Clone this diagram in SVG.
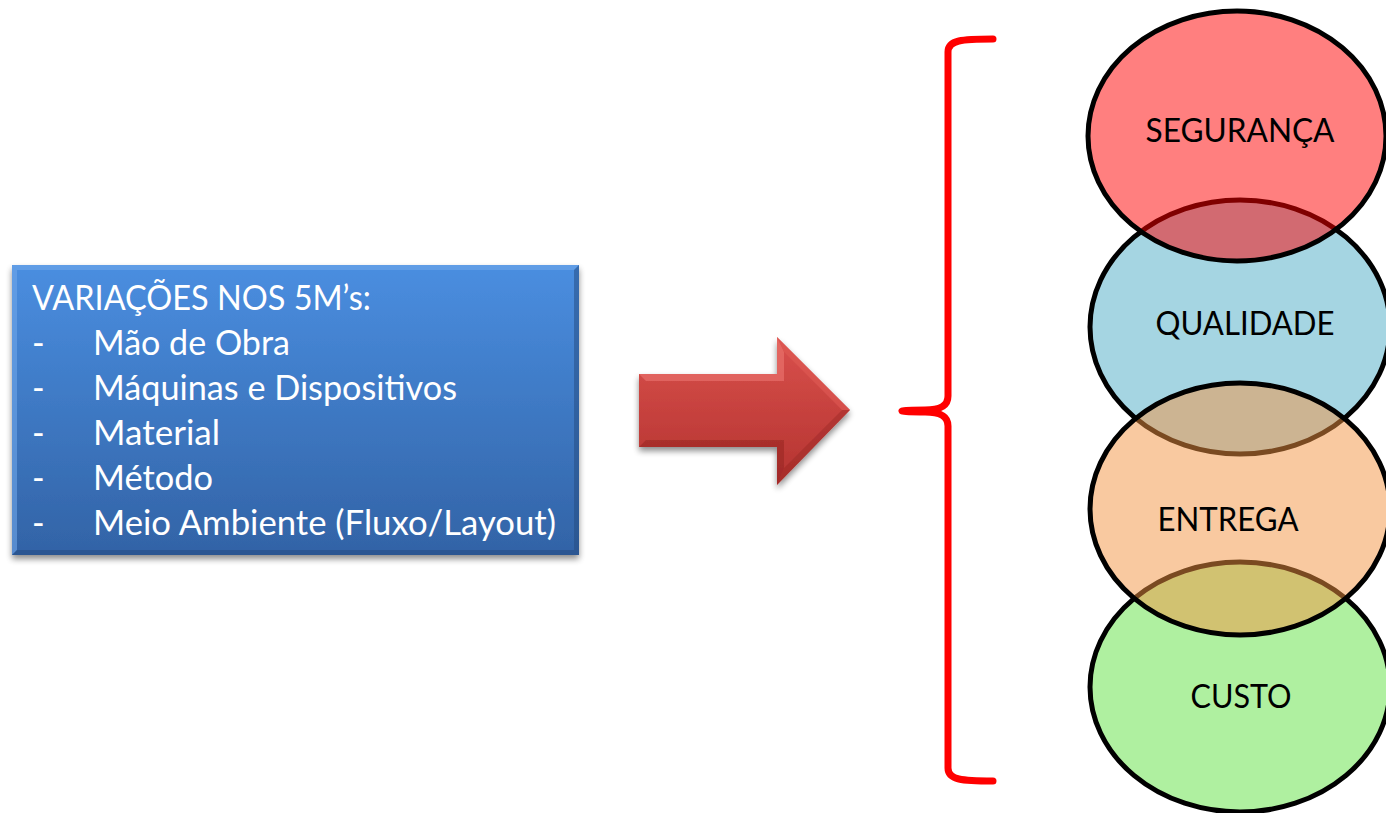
<svg xmlns="http://www.w3.org/2000/svg" width="1386" height="813" viewBox="0 0 1386 813">
<defs>
<linearGradient id="boxGrad" x1="0" y1="0" x2="0" y2="1">
<stop offset="0" stop-color="#4a8ee0"/>
<stop offset="1" stop-color="#3263a6"/>
</linearGradient>
<linearGradient id="arrowGrad" x1="0" y1="0" x2="0" y2="1">
<stop offset="0" stop-color="#d9504c"/>
<stop offset="1" stop-color="#b43330"/>
</linearGradient>
<filter id="shadow" x="-10%" y="-10%" width="120%" height="130%">
<feGaussianBlur in="SourceAlpha" stdDeviation="3"/>
<feOffset dx="0" dy="4" result="b"/>
<feComponentTransfer><feFuncA type="linear" slope="0.45"/></feComponentTransfer>
<feMerge><feMergeNode/><feMergeNode in="SourceGraphic"/></feMerge>
</filter>
</defs>
<style>
.boxtxt{font-family:"Lato","Liberation Sans",sans-serif;font-size:34px;fill:#ffffff}
.ell{stroke:#000000;stroke-width:5}
.etxt{font-family:"Lato","Liberation Sans",sans-serif;font-size:32px;fill:#000000;text-anchor:middle}
.brace{fill:none;stroke:#ff0000;stroke-width:7;stroke-linecap:round;stroke-linejoin:round}
</style>
<rect width="1386" height="813" fill="#ffffff"/>

<g id="variacoes">
<rect x="12" y="265" width="567" height="290" fill="url(#boxGrad)" filter="url(#shadow)"/>
<path d="M12 265 H579 L574 270 H17 V550 L12 555 Z" fill="#6fa6ea" opacity="0.6"/>
<path d="M579 265 V555 H12 L17 550 H574 V270 Z" fill="#23497d" opacity="0.5"/>
<text class="boxtxt" x="32" y="310" textLength="339" lengthAdjust="spacingAndGlyphs">VARIAÇÕES NOS 5M’s:</text>
<text class="boxtxt" x="32" y="355">-</text>
<text class="boxtxt" x="93" y="355" textLength="197" lengthAdjust="spacingAndGlyphs">Mão de Obra</text>
<text class="boxtxt" x="32" y="400">-</text>
<text class="boxtxt" x="93" y="400" textLength="364" lengthAdjust="spacingAndGlyphs">Máquinas e Dispositivos</text>
<text class="boxtxt" x="32" y="445">-</text>
<text class="boxtxt" x="93" y="445" textLength="127" lengthAdjust="spacingAndGlyphs">Material</text>
<text class="boxtxt" x="32" y="490">-</text>
<text class="boxtxt" x="93" y="490" textLength="120" lengthAdjust="spacingAndGlyphs">Método</text>
<text class="boxtxt" x="32" y="535">-</text>
<text class="boxtxt" x="93" y="535" textLength="463" lengthAdjust="spacingAndGlyphs">Meio Ambiente (Fluxo/Layout)</text>
</g>

<g id="arrow" filter="url(#shadow)">
<path d="M639 374 H777 V337 L850 410 L777 485 V447 H639 Z" fill="url(#arrowGrad)"/>
<path d="M639 374 H777 V337 L784 352 V381 H646 Z" fill="#e8706b" opacity="0.7"/>
<path d="M777 337 L850 410 L842 410 L784 352 Z" fill="#e05a55" opacity="0.6"/>
<path d="M639 447 H777 V485 L784 468 V440 H646 Z" fill="#8f2220" opacity="0.45"/>
<path d="M777 485 L850 410 L842 410 L784 468 Z" fill="#8f2220" opacity="0.35"/>
</g>

<g id="connectors">
<path class="brace" d="M993 39 C962 39 948 40 948 52 V396 C948 406 940 410 925 410 C915 410 905 410 902 411 C905 412 915 412 925 412 C940 412 948 416 948 426 V768 C948 780 962 781 993 781"/>
</g>

<g id="qualidade">
<ellipse class="ell" cx="1240" cy="327" rx="150" ry="127" fill="#a5d5e2"/>
<text class="etxt" x="1245" y="335" textLength="179" lengthAdjust="spacingAndGlyphs">QUALIDADE</text>
</g>
<g id="custo">
<ellipse class="ell" cx="1240" cy="687" rx="150" ry="125" fill="#aff0a0"/>
<text class="etxt" x="1241" y="708" textLength="101" lengthAdjust="spacingAndGlyphs">CUSTO</text>
</g>
<g id="entrega">
<ellipse class="ell" cx="1240" cy="509" rx="150" ry="126" fill="#f39341" fill-opacity="0.5"/>
<text class="etxt" x="1228" y="531" textLength="141" lengthAdjust="spacingAndGlyphs">ENTREGA</text>
</g>
<g id="seguranca">
<ellipse class="ell" cx="1237" cy="136" rx="149" ry="125" fill="#ff0000" fill-opacity="0.5"/>
<text class="etxt" x="1240" y="142" textLength="189" lengthAdjust="spacingAndGlyphs">SEGURANÇA</text>
</g>
</svg>
